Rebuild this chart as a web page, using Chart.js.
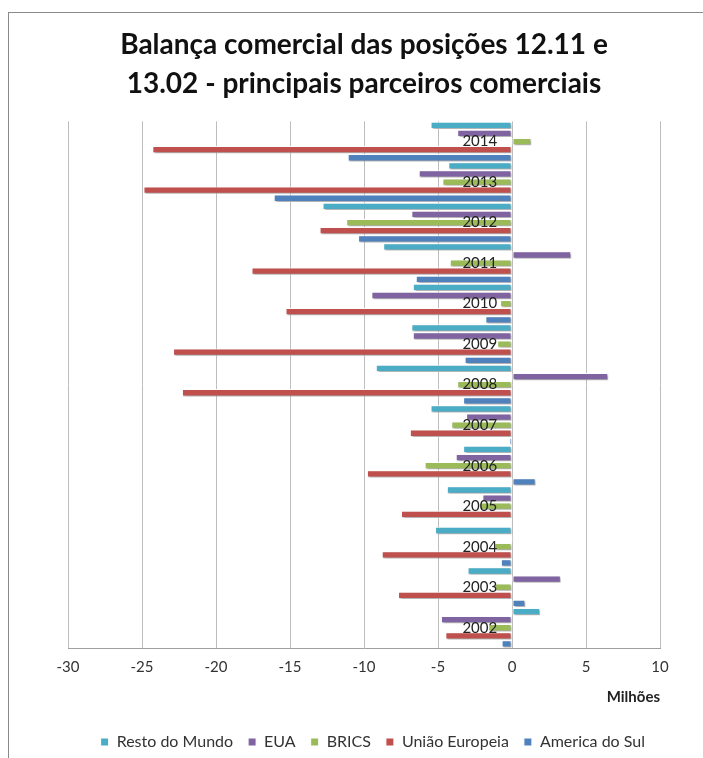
<!DOCTYPE html>
<html>
<head>
<meta charset="utf-8">
<script src="https://cdn.jsdelivr.net/npm/chart.js@4"></script>
<style>
  html, body { margin: 0; padding: 0; background: #fff; }
  #wrap { position: relative; width: 703px; height: 758px; overflow: hidden; }
  #frame { position: absolute; left: 8px; top: 12px; width: 720px; height: 800px; border: 1px solid #8a8a8a; box-sizing: border-box; }
  canvas { position: absolute; left: 0; top: 0; }
</style>
</head>
<body>
<div id="wrap">
  <div id="frame"></div>
  <canvas id="c" width="703" height="760"></canvas>
</div>
<script>
// Years (chronological)
const years = ['2002','2003','2004','2005','2006','2007','2008','2009','2010','2011','2012','2013','2014'];
// Values in millions (chronological order)
const restoDoMundo    = [1.9, -3.0, -5.2, -4.4, -3.3, -5.5, -9.2, -6.8, -6.7, -8.7, -12.8, -4.3, -5.5];
const eua             = [-4.8, 3.3, 0.1, -2.0, -3.8, -3.1, 6.5, -6.7, -9.5, 4.0, -6.8, -6.3, -3.7];
const brics           = [-1.6, -1.2, -1.2, -2.2, -5.9, -4.1, -3.7, -1.0, -0.8, -4.2, -11.2, -4.7, 1.3];
const uniaoEuropeia   = [-4.5, -7.7, -8.8, -7.5, -9.8, -6.9, -22.3, -22.9, -15.3, -17.6, -13.0, -24.9, -24.3];
const americaDoSul    = [-0.7, 0.9, -0.75, -0.1, 1.6, -0.2, -3.3, -3.2, -1.8, -6.5, -10.4, -16.1, -11.1];
const xTicks = [-30, -25, -20, -15, -10, -5, 0, 5, 10];

const FONT = "Lato, 'Open Sans', sans-serif";
const rev = a => a.slice().reverse();

const shadowPlugin = {
  id: 'barShadow',
  beforeDatasetsDraw(chart) {
    const c = chart.ctx;
    c.save();
    c.shadowColor = 'rgba(0,0,0,0.35)';
    c.shadowBlur = 2;
    c.shadowOffsetX = 1.5;
    c.shadowOffsetY = 1.5;
  },
  afterDatasetsDraw(chart) { chart.ctx.restore(); }
};

function ds(label, data, color) {
  return {
    label, data: rev(data), backgroundColor: color,
    borderColor: '#ffffff', borderWidth: 1, borderSkipped: false,
    barPercentage: 0.9, categoryPercentage: 1.0
  };
}

new Chart(document.getElementById('c'), {
  type: 'bar',
  data: {
    labels: rev(years),
    datasets: [
      ds('Resto do Mundo', restoDoMundo, '#4BACC6'),
      ds('EUA', eua, '#8064A2'),
      ds('BRICS', brics, '#9BBB59'),
      ds('União Europeia', uniaoEuropeia, '#C0504D'),
      ds('America do Sul', americaDoSul, '#4F81BD')
    ]
  },
  plugins: [shadowPlugin],
  options: {
    indexAxis: 'y',
    responsive: false,
    animation: false,
    layout: { padding: { left: 68, right: 43, top: 14, bottom: 0 } },
    scales: {
      x: {
        type: 'linear', min: -30, max: 10,
        afterBuildTicks: s => { s.ticks = xTicks.map(v => ({ value: v })); },
        grid: { color: '#bdbdbd', drawTicks: false, lineWidth: 1 },
        border: { color: '#a0a0a0' },
        ticks: { font: { family: FONT, size: 15 }, color: '#333', padding: 10 },
        title: { display: true, text: 'Milhões', align: 'end', color: '#222',
                 font: { family: FONT, size: 15, weight: 'bold' }, padding: { top: 2, bottom: 13 } }
      },
      y: {
        position: { x: -1 },
        grid: { display: false, drawTicks: false },
        border: { display: false },
        ticks: { z: 1, font: { family: FONT, size: 15 }, color: '#222', padding: 0 }
      }
    },
    plugins: {
      title: {
        display: true,
        text: ['Balança comercial das posições 12.11 e', '13.02 - principais parceiros comerciais'],
        font: { family: FONT, size: 28, weight: 'bold', lineHeight: 1.38 },
        color: '#111',
        padding: { top: 12, bottom: 18 }
      },
      legend: {
        position: 'bottom',
        align: 'end',
        labels: { font: { family: FONT, size: 16 }, color: '#333', boxWidth: 8, boxHeight: 8, padding: 15 }
      },
      tooltip: { enabled: false }
    }
  }
});
</script>
</body>
</html>
